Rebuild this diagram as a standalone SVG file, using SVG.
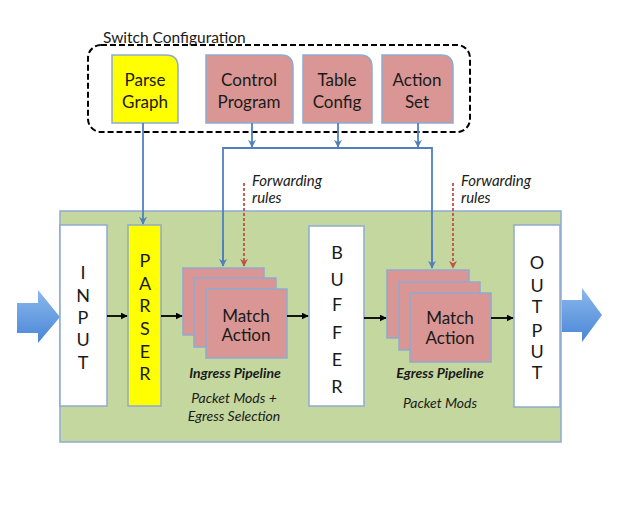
<svg xmlns="http://www.w3.org/2000/svg" width="641" height="507" viewBox="0 0 641 507">
<defs>
<linearGradient id="bigArrow" x1="0" y1="0" x2="0" y2="1">
<stop offset="0" stop-color="#8ab8ec"/>
<stop offset="1" stop-color="#4a86d6"/>
</linearGradient>
<marker id="blk" viewBox="0 0 10 10" refX="9" refY="5" markerWidth="7" markerHeight="7" orient="auto" markerUnits="userSpaceOnUse">
<path d="M0,0 L10,5 L0,10 z" fill="#000"/>
</marker>
<marker id="blu" viewBox="0 0 10 10" refX="9" refY="5" markerWidth="8" markerHeight="8" orient="auto" markerUnits="userSpaceOnUse">
<path d="M0,0 L10,5 L0,10 L3,5 z" fill="#4f81bd"/>
</marker>
<marker id="red" viewBox="0 0 10 10" refX="9" refY="5" markerWidth="8" markerHeight="8" orient="auto" markerUnits="userSpaceOnUse">
<path d="M0,0 L10,5 L0,10 L3,5 z" fill="#c0504d"/>
</marker>
</defs>
<style>
text{font-family:Lato,"Open Sans","Liberation Sans",sans-serif;fill:#1a1a1a}
.cfg{fill:#d99694;stroke:#8faad0;stroke-width:1.5}
.yel{fill:#ffff00;stroke:#8faad0;stroke-width:1.5}
.wht{fill:#ffffff;stroke:#8faad0;stroke-width:1.5}
.ma{fill:#d99694;stroke:#8faad0;stroke-width:1.5}
.lbl{font-size:17px;text-anchor:middle}
.let{font-size:18px;text-anchor:middle}
.it{font-size:15px;font-style:italic}
.bi{font-size:14px;font-style:italic;font-weight:bold;text-anchor:middle}
.im{font-size:14px;font-style:italic;text-anchor:middle}
.bl{stroke:#4f81bd;stroke-width:1.8;fill:none}
.bk{stroke:#000;stroke-width:1.8;fill:none}
.rd{stroke:#c0504d;stroke-width:1.8;fill:none;stroke-dasharray:3,2}
</style>

<g id="switch-config">
<text x="103" y="43" style="font-size:15.5px">Switch Configuration</text>
<rect x="88" y="45" width="382" height="87" rx="13" ry="13" fill="none" stroke="#000" stroke-width="2" stroke-dasharray="6,3"/>
</g>

<g id="parse-graph">
<path class="yel" d="M112,55 H166 Q178,55 178,67 V123 H112 Z"/>
<text class="lbl" x="145" y="86">Parse</text>
<text class="lbl" x="145" y="108">Graph</text>
</g>
<g id="control-program">
<path class="cfg" d="M206,55 H281 Q293,55 293,67 V123 H206 Z"/>
<text class="lbl" x="249" y="86">Control</text>
<text class="lbl" x="249" y="108">Program</text>
</g>
<g id="table-config">
<path class="cfg" d="M303,55 H360 Q372,55 372,67 V123 H303 Z"/>
<text class="lbl" x="337" y="86">Table</text>
<text class="lbl" x="337" y="108">Config</text>
</g>
<g id="action-set">
<path class="cfg" d="M382,55 H441 Q453,55 453,67 V123 H382 Z"/>
<text class="lbl" x="417" y="86">Action</text>
<text class="lbl" x="417" y="108">Set</text>
</g>

<g id="switch">
<rect x="60" y="211" width="501" height="231" fill="#c4d79e" stroke="#8faad0" stroke-width="1.5"/>
</g>

<g id="input-arrow">
<path d="M17,303 H38 V290 L60,317 L38,343 V333 H17 Z" fill="url(#bigArrow)"/>
</g>
<g id="output-arrow">
<path d="M562,300 H582 V288 L602,315 L582,342 V332 H562 Z" fill="url(#bigArrow)"/>
</g>

<g id="input">
<rect class="wht" x="60" y="225" width="47" height="181"/>
<text class="let" x="83" y="279">I</text>
<text class="let" x="83" y="302">N</text>
<text class="let" x="83" y="324">P</text>
<text class="let" x="83" y="346">U</text>
<text class="let" x="83" y="369">T</text>
</g>

<g id="parser">
<rect class="yel" x="128" y="225" width="33" height="181"/>
<text class="let" x="145" y="267">P</text>
<text class="let" x="145" y="290">A</text>
<text class="let" x="145" y="312">R</text>
<text class="let" x="145" y="335">S</text>
<text class="let" x="145" y="358">E</text>
<text class="let" x="145" y="380">R</text>
</g>

<g id="ingress-pipeline">
<rect class="ma" x="183" y="268" width="81" height="67"/>
<rect class="ma" x="194" y="278" width="82" height="69"/>
<rect class="ma" x="206" y="289" width="81" height="69"/>
<text class="lbl" x="246" y="322">Match</text>
<text class="lbl" x="246" y="341">Action</text>
<text class="bi" x="235" y="378">Ingress Pipeline</text>
<text class="im" x="234" y="403">Packet Mods +</text>
<text class="im" x="234" y="421">Egress Selection</text>
</g>

<g id="buffer">
<rect class="wht" x="309" y="226" width="55" height="180"/>
<text class="let" x="337" y="259">B</text>
<text class="let" x="337" y="286">U</text>
<text class="let" x="337" y="311">F</text>
<text class="let" x="337" y="339">F</text>
<text class="let" x="337" y="366">E</text>
<text class="let" x="337" y="393">R</text>
</g>

<g id="egress-pipeline">
<rect class="ma" x="387" y="270" width="82" height="68"/>
<rect class="ma" x="399" y="282" width="81" height="68"/>
<rect class="ma" x="410" y="293" width="81" height="69"/>
<text class="lbl" x="450" y="324">Match</text>
<text class="lbl" x="450" y="344">Action</text>
<text class="bi" x="440" y="378">Egress Pipeline</text>
<text class="im" x="440" y="408">Packet Mods</text>
</g>

<g id="output">
<rect class="wht" x="514" y="225" width="46" height="182"/>
<text class="let" x="537" y="269">O</text>
<text class="let" x="537" y="292">U</text>
<text class="let" x="537" y="313">T</text>
<text class="let" x="537" y="337">P</text>
<text class="let" x="537" y="358">U</text>
<text class="let" x="537" y="379">T</text>
</g>

<g id="fwd-rules-ingress">
<text class="it" x="252" y="186">Forwarding</text>
<text class="it" x="252" y="203">rules</text>
</g>
<g id="fwd-rules-egress">
<text class="it" x="461" y="186">Forwarding</text>
<text class="it" x="461" y="203">rules</text>
</g>

<g id="connectors">
<path class="bl" d="M143,123 V224" marker-end="url(#blu)"/>
<path class="bl" d="M252,123 V147" marker-end="url(#blu)"/>
<path class="bl" d="M338,123 V147" marker-end="url(#blu)"/>
<path class="bl" d="M418,123 V147" marker-end="url(#blu)"/>
<path class="bl" d="M223,266 V148 H432 V268" />
<path class="bl" d="M223,240 V266" marker-end="url(#blu)"/>
<path class="bl" d="M432,240 V268" marker-end="url(#blu)"/>
<path class="rd" d="M244,183 V266" marker-end="url(#red)"/>
<path class="rd" d="M453,183 V268" marker-end="url(#red)"/>
<path class="bk" d="M107,316 H127" marker-end="url(#blk)"/>
<path class="bk" d="M161,316 H182" marker-end="url(#blk)"/>
<path class="bk" d="M287,316 H308" marker-end="url(#blk)"/>
<path class="bk" d="M364,318 H386" marker-end="url(#blk)"/>
<path class="bk" d="M491,318 H513" marker-end="url(#blk)"/>
</g>
</svg>
